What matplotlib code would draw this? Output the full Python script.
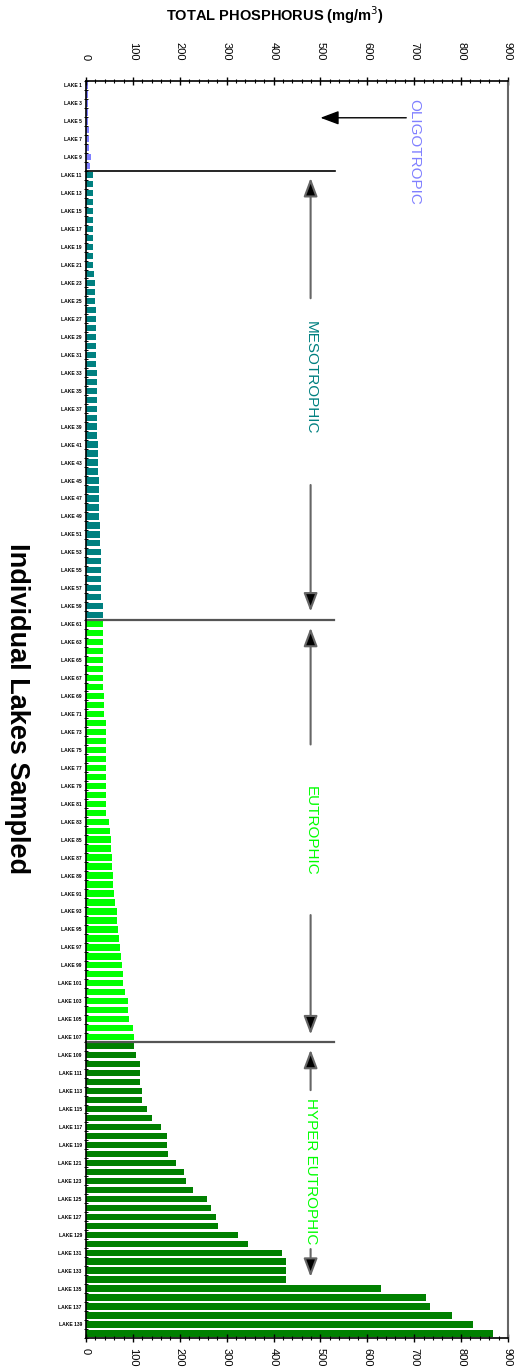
#total phosphorus of the individual lakes, grouped by trophic state
import numpy as np
import matplotlib
matplotlib.use("Agg")
import matplotlib.pyplot as plt
from matplotlib.ticker import MultipleLocator, FixedLocator

plt.rcParams['font.family'] = ['Liberation Sans', 'DejaVu Sans']

#total phosphorus (mg/m3) of each lake, sorted from lowest to highest
oligo_tp = [4, 4, 4, 4, 5, 7, 7, 7, 10, 9]
meso_tp = [14, 14, 14, 14, 14, 14, 14, 14, 14, 14, 14,
           18, 20, 20, 20, 22, 22, 22, 22, 22, 22,
           22, 24, 24, 24, 24, 24, 24, 24, 24,
           26, 26, 26, 26, 28, 28, 28, 28, 28,
           30.5, 30.5, 30.5, 33, 33, 33, 33, 33, 33, 37, 37]
eu_tp = [37, 37, 37, 37, 37, 37, 37, 37, 39, 39, 39,
         43, 43, 43, 43, 43, 43, 43, 43, 43, 43, 43,
         50, 52, 54, 54, 56, 56, 58, 58, 60, 62.5, 67, 67, 69, 71,
         73, 75, 77, 79.5, 79.5, 84, 90, 90, 92, 101, 103]
hyper_tp = [103, 107, 116, 116, 116, 120, 120, 131, 141, 160, 173, 173,
            175, 192, 209, 213, 229, 258, 267, 277, 282, 324, 345, 417,
            427, 427, 427, 629, 726, 734, 781, 825, 869]

#one name for every second lake
lake_names = ["LAKE %d" % n for n in range(1, 141, 2)]

groups = [oligo_tp, meso_tp, eu_tp, hyper_tp]
group_colors = ['#8080ff', '#008080', '#00ff00', '#008000']

tp = np.concatenate(groups)
colors = []
for g, c in zip(groups, group_colors):
    colors += [c] * len(g)
pos = np.arange(len(tp))

#row where each trophic group ends
edges = np.cumsum([len(g) for g in groups])[:-1] - 0.5

fig = plt.figure(figsize=(5.29, 13.70), dpi=100)
ax = fig.add_axes([0.1626, 0.0234, 0.7977, 0.9175])

ax.barh(pos, tp, height=0.7, color=colors)

ax.set_xlim(0, 900)
ax.set_ylim(len(tp) - 0.5, -0.5)

#value axis ticks on top and bottom, numbers turned sideways
ax.xaxis.set_major_locator(MultipleLocator(100))
ax.xaxis.set_minor_locator(MultipleLocator(20))
ax.tick_params(axis='x', which='both', top=True, bottom=True,
               labeltop=False, labelbottom=True, direction='inout',
               labelrotation=-90, labelsize=8)
ax.tick_params(axis='x', which='major', length=6, width=1, pad=4)
ax.tick_params(axis='x', which='minor', length=3, width=0.8)
for t in ax.xaxis.get_major_ticks():
    t.label1.set_va('top')

#numbers above the top axis sit further out
top = ax.secondary_xaxis('top')
top.set_xticks(np.arange(0, 901, 100))
top.tick_params(length=0, pad=15, labelrotation=-90, labelsize=8)
top.spines['top'].set_visible(False)
for lab in top.get_xticklabels():
    lab.set_va('bottom')

#lake names on every second bar, small ticks between bars
ax.set_yticks(pos[::2])
ax.set_yticklabels(lake_names, fontsize=3.6, fontweight='bold')
ax.yaxis.set_minor_locator(FixedLocator(np.arange(len(tp) + 1) - 0.5))
ax.tick_params(axis='y', which='major', length=0, pad=3)
ax.tick_params(axis='y', which='minor', length=3, width=0.7, direction='inout')

ax.spines['right'].set_color('#666666')
ax.spines['right'].set_linewidth(1.5)
for s in ['left', 'top', 'bottom']:
    ax.spines[s].set_linewidth(1.2)

#boundaries between trophic groups
ax.plot([0, 532], [edges[0], edges[0]], color='black', lw=1.2, clip_on=False)
ax.plot([0, 528], [edges[1], edges[1]], color='#555555', lw=1.6, clip_on=False)
ax.plot([0, 528], [edges[2], edges[2]], color='#555555', lw=1.6, clip_on=False)

arrow = dict(arrowstyle='-|>,head_length=0.8,head_width=0.3', ec='#666666',
             fc='black', lw=1.5, mutation_scale=14, shrinkA=0, shrinkB=0)

#trophic state labels with arrows
ax.text(700, 7.4, 'OLIGOTROPIC', rotation=-90, color='#8080ff',
        fontsize=11, ha='center', va='center')
ax.annotate('', xy=(500, 3.6), xytext=(683, 3.6),
            arrowprops=dict(arrow, ec='black', lw=1))

ax.text(479, 32.6, 'MESOTROPHIC', rotation=-90, color='#008080',
        fontsize=11, ha='center', va='center')
ax.annotate('', xy=(479, 10.3), xytext=(479, 23.7), arrowprops=arrow)
ax.annotate('', xy=(479, 58.6), xytext=(479, 44.5), arrowprops=arrow)

ax.text(479, 83.0, 'EUTROPHIC', rotation=-90, color='#00ff00',
        fontsize=11, ha='center', va='center')
ax.annotate('', xy=(479, 60.4), xytext=(479, 73.4), arrowprops=arrow)
ax.annotate('', xy=(479, 105.7), xytext=(479, 92.4), arrowprops=arrow)

ax.text(479, 120.9, 'HYPER EUTROPHIC', rotation=-90, color='#00ff00',
        fontsize=11, ha='center', va='center')
ax.annotate('', xy=(479, 107.4), xytext=(479, 111.9), arrowprops=arrow)
ax.annotate('', xy=(479, 132.7), xytext=(479, 129.6), arrowprops=arrow)

#axis titles
fig.text(275 / 529, 1 - 15 / 1370, 'TOTAL PHOSPHORUS (mg/m$^3$)',
         fontsize=10.5, fontweight='bold', ha='center', va='center')
fig.text(17 / 529, 1 - 709 / 1370, 'Individual Lakes Sampled',
         fontsize=19.5, fontweight='bold', rotation=-90,
         ha='center', va='center')

plt.savefig('out.png', dpi=100)
